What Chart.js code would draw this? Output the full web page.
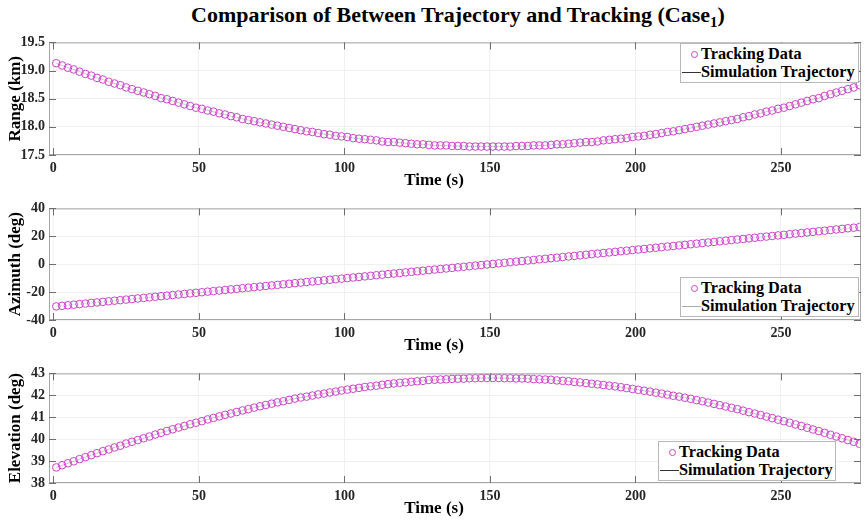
<!DOCTYPE html>
<html lang="en">
<head>
<meta charset="UTF-8">
<title>Comparison of Between Trajectory and Tracking</title>
<script src="https://cdn.jsdelivr.net/npm/chart.js"></script>
<style>
  body {
    margin: 0;
    width: 868px;
    height: 523px;
    position: relative;
    overflow: hidden;
    background: #fff;
    font-family: "Liberation Serif", "Times New Roman", serif;
  }
  .title {
    position: absolute;
    left: 0;
    width: 916px;
    top: 2px;
    text-align: center;
    font-weight: bold;
    font-size: 22px;
    color: #000;
  }
  .title sub { font-size: 15px; }
  .panel { position: absolute; left: 0; }
  .xlab {
    position: absolute;
    left: 334px;
    width: 200px;
    text-align: center;
    font-weight: bold;
    font-size: 17px;
    line-height: 20px;
    color: #000;
  }
  .legend {
    position: absolute;
    background: #fff;
    border: 1px solid #b8b8b8;
    font-weight: bold;
    font-size: 16.3px;
    color: #000;
    padding-top: 1px;
  }
  .legend .row {
    position: relative;
    height: 18px;
    line-height: 18px;
    padding-left: 20px;
    white-space: nowrap;
  }
  .legend .dot {
    position: absolute;
    left: 10px;
    top: 6px;
    width: 5px;
    height: 5px;
    border: 1px solid #cc44cc;
    border-radius: 50%;
  }
  .legend .ln {
    position: absolute;
    left: 1px;
    top: 9px;
    width: 19px;
    height: 1px;
  }
</style>
</head>
<body>

<div class="title">Comparison of Between Trajectory and Tracking (Case<sub>1</sub>)</div>

<div class="panel" style="top:30px"><canvas id="rangeChart" width="868" height="166"></canvas></div>
<div class="panel" style="top:196px"><canvas id="azimuthChart" width="868" height="165"></canvas></div>
<div class="panel" style="top:361px"><canvas id="elevationChart" width="868" height="162"></canvas></div>

<div class="xlab" style="top:170px">Time (s)</div>
<div class="xlab" style="top:335px">Time (s)</div>
<div class="xlab" style="top:498px">Time (s)</div>

<div class="legend" style="left:680px; top:43px; width:177px; height:37px;">
  <div class="row"><span class="dot"></span>Tracking Data</div>
  <div class="row"><span class="ln" style="background:#333"></span>Simulation Trajectory</div>
</div>
<div class="legend" style="left:680px; top:277px; width:177px; height:37px;">
  <div class="row"><span class="dot"></span>Tracking Data</div>
  <div class="row"><span class="ln" style="background:#aaa"></span>Simulation Trajectory</div>
</div>
<div class="legend" style="left:658px; top:441px; width:176px; height:37px;">
  <div class="row"><span class="dot"></span>Tracking Data</div>
  <div class="row"><span class="ln" style="background:#333"></span>Simulation Trajectory</div>
</div>

<script>
// time samples (s)
const timeSec = [
  1, 3, 5, 7, 9, 11, 13, 15, 17, 19, 21, 23, 25, 27, 29, 31, 33, 35, 37, 39,
  41, 43, 45, 47, 49, 51, 53, 55, 57, 59, 61, 63, 65, 67, 69, 71, 73, 75, 77, 79,
  81, 83, 85, 87, 89, 91, 93, 95, 97, 99, 101, 103, 105, 107, 109, 111, 113, 115, 117, 119,
  121, 123, 125, 127, 129, 131, 133, 135, 137, 139, 141, 143, 145, 147, 149, 151, 153, 155, 157, 159,
  161, 163, 165, 167, 169, 171, 173, 175, 177, 179, 181, 183, 185, 187, 189, 191, 193, 195, 197, 199,
  201, 203, 205, 207, 209, 211, 213, 215, 217, 219, 221, 223, 225, 227, 229, 231, 233, 235, 237, 239,
  241, 243, 245, 247, 249, 251, 253, 255, 257, 259, 261, 263, 265, 267, 269, 271, 273, 275, 277
];

// range (km)
const rangeKm = [
  19.13, 19.09, 19.05, 19.02, 18.98, 18.94, 18.91, 18.87, 18.84, 18.80, 18.77, 18.74, 18.70, 18.67, 18.64,
  18.61, 18.58, 18.55, 18.51, 18.49, 18.46, 18.43, 18.40, 18.37, 18.34, 18.32, 18.29, 18.27, 18.24, 18.22,
  18.19, 18.17, 18.14, 18.12, 18.10, 18.08, 18.06, 18.04, 18.02, 18.00, 17.98, 17.96, 17.94, 17.92, 17.91,
  17.89, 17.87, 17.86, 17.84, 17.83, 17.82, 17.80, 17.79, 17.78, 17.77, 17.76, 17.74, 17.73, 17.73, 17.72,
  17.71, 17.70, 17.69, 17.69, 17.68, 17.67, 17.67, 17.67, 17.66, 17.66, 17.66, 17.65, 17.65, 17.65, 17.65,
  17.65, 17.65, 17.65, 17.65, 17.66, 17.66, 17.66, 17.67, 17.67, 17.67, 17.68, 17.69, 17.69, 17.70, 17.71,
  17.72, 17.73, 17.73, 17.74, 17.76, 17.77, 17.78, 17.79, 17.80, 17.82, 17.83, 17.84, 17.86, 17.87, 17.89,
  17.91, 17.92, 17.94, 17.96, 17.98, 18.00, 18.02, 18.04, 18.06, 18.08, 18.10, 18.12, 18.14, 18.17, 18.19,
  18.22, 18.24, 18.27, 18.29, 18.32, 18.34, 18.37, 18.40, 18.43, 18.46, 18.49, 18.51, 18.55, 18.58, 18.61,
  18.64, 18.67, 18.70, 18.74
];

// azimuth (deg)
const azimuthDeg = [
  -30.25, -29.84, -29.44, -29.03, -28.62, -28.22, -27.81, -27.41, -27.00, -26.59, -26.19, -25.78, -25.38, -24.97, -24.56,
  -24.16, -23.75, -23.35, -22.94, -22.53, -22.13, -21.72, -21.32, -20.91, -20.50, -20.10, -19.69, -19.29, -18.88, -18.47,
  -18.07, -17.66, -17.26, -16.85, -16.44, -16.04, -15.63, -15.23, -14.82, -14.41, -14.01, -13.60, -13.20, -12.79, -12.38,
  -11.98, -11.57, -11.17, -10.76, -10.35, -9.95, -9.54, -9.14, -8.73, -8.32, -7.92, -7.51, -7.11, -6.70, -6.29,
  -5.89, -5.48, -5.08, -4.67, -4.26, -3.86, -3.45, -3.05, -2.64, -2.23, -1.83, -1.42, -1.02, -0.61, -0.20,
  0.20, 0.61, 1.02, 1.43, 1.84, 2.25, 2.66, 3.07, 3.48, 3.89, 4.30, 4.72, 5.13, 5.54, 5.96,
  6.37, 6.79, 7.20, 7.62, 8.03, 8.45, 8.87, 9.28, 9.70, 10.12, 10.53, 10.95, 11.37, 11.79, 12.21,
  12.63, 13.05, 13.47, 13.89, 14.31, 14.73, 15.15, 15.57, 15.99, 16.41, 16.84, 17.26, 17.68, 18.10, 18.53,
  18.95, 19.37, 19.80, 20.22, 20.64, 21.07, 21.49, 21.92, 22.34, 22.77, 23.19, 23.62, 24.04, 24.47, 24.90,
  25.32, 25.75, 26.17, 26.60
];

// elevation (deg)
const elevationDeg = [
  38.71, 38.81, 38.90, 38.99, 39.09, 39.18, 39.27, 39.36, 39.45, 39.53, 39.62, 39.70, 39.80, 39.88, 39.96,
  40.04, 40.12, 40.21, 40.29, 40.37, 40.45, 40.53, 40.60, 40.68, 40.75, 40.82, 40.90, 40.97, 41.04, 41.11,
  41.17, 41.24, 41.31, 41.37, 41.44, 41.50, 41.56, 41.62, 41.68, 41.73, 41.79, 41.85, 41.90, 41.94, 41.99,
  42.04, 42.08, 42.13, 42.17, 42.22, 42.26, 42.30, 42.34, 42.38, 42.41, 42.44, 42.48, 42.51, 42.54, 42.57,
  42.59, 42.62, 42.64, 42.66, 42.70, 42.71, 42.72, 42.73, 42.75, 42.76, 42.76, 42.78, 42.78, 42.79, 42.79,
  42.79, 42.79, 42.78, 42.78, 42.77, 42.77, 42.76, 42.74, 42.73, 42.72, 42.71, 42.68, 42.66, 42.64, 42.61,
  42.59, 42.56, 42.53, 42.50, 42.47, 42.44, 42.41, 42.37, 42.33, 42.29, 42.25, 42.21, 42.17, 42.12, 42.08,
  42.03, 41.98, 41.94, 41.89, 41.84, 41.78, 41.73, 41.67, 41.61, 41.55, 41.49, 41.43, 41.37, 41.30, 41.23,
  41.17, 41.10, 41.03, 40.96, 40.89, 40.82, 40.75, 40.67, 40.60, 40.52, 40.44, 40.37, 40.29, 40.20, 40.12,
  40.04, 39.96, 39.88, 39.79
];

const xTicks = [0, 50, 100, 150, 200, 250];
const rangeTicks = [17.5, 18, 18.5, 19, 19.5];
const azimuthTicks = [-40, -20, 0, 20, 40];
const elevationTicks = [38, 39, 40, 41, 42, 43];

const serif = 'Liberation Serif';

// box around the axes and inward tick marks, matlab style
const boxTicks = {
  id: 'boxTicks',
  afterDraw(chart) {
    const { ctx, chartArea: a, scales: { x, y } } = chart;
    ctx.save();
    ctx.lineWidth = 1;
    ctx.strokeStyle = '#a6a6a6';
    ctx.strokeRect(a.left + 0.5, a.top + 0.5, a.right - a.left - 1, a.bottom - a.top - 1);
    ctx.strokeStyle = '#6e6e6e';
    ctx.beginPath();
    x.ticks.forEach(t => {
      const px = Math.round(x.getPixelForValue(t.value)) + 0.5;
      ctx.moveTo(px, a.bottom); ctx.lineTo(px, a.bottom - 7);
      ctx.moveTo(px, a.top); ctx.lineTo(px, a.top + 7);
    });
    y.ticks.forEach(t => {
      const py = Math.round(y.getPixelForValue(t.value)) + 0.5;
      ctx.moveTo(a.left, py); ctx.lineTo(a.left + 7, py);
      ctx.moveTo(a.right, py); ctx.lineTo(a.right - 7, py);
    });
    ctx.stroke();
    ctx.restore();
  }
};

function makeChart(id, values, yMin, yMax, yTicks, yTitle, lineColor, padTop, xAxisH) {
  const pts = timeSec.map((t, i) => ({ x: t, y: values[i] }));
  new Chart(document.getElementById(id), {
    type: 'scatter',
    data: {
      datasets: [
        {
          label: 'Tracking Data',
          data: pts,
          showLine: false,
          pointStyle: 'circle',
          pointRadius: 3.8,
          pointBorderWidth: 1,
          pointBorderColor: '#cc44cc',
          pointBackgroundColor: 'rgba(0,0,0,0)',
          order: 1
        },
        {
          label: 'Simulation Trajectory',
          data: pts,
          showLine: true,
          borderColor: lineColor,
          borderWidth: 0.5,
          pointRadius: 0,
          order: 2
        }
      ]
    },
    options: {
      responsive: false,
      animation: false,
      events: [],
      layout: { padding: { top: padTop, right: 7, bottom: 0, left: 0 } },
      plugins: { legend: { display: false }, tooltip: { enabled: false } },
      scales: {
        x: {
          type: 'linear',
          min: -1.5,
          max: 277.5,
          afterBuildTicks: s => { s.ticks = xTicks.map(v => ({ value: v })); },
          afterFit: s => { s.height = xAxisH; },
          grid: { color: '#f0f0f0', drawTicks: false },
          border: { display: false },
          ticks: {
            padding: 5,
            maxRotation: 0,
            color: '#262626',
            font: { family: serif, weight: 'bold', size: 14 }
          }
        },
        y: {
          min: yMin,
          max: yMax,
          afterBuildTicks: s => { s.ticks = yTicks.map(v => ({ value: v })); },
          afterFit: s => { s.width = 49; },
          grid: { color: '#f0f0f0', drawTicks: false },
          border: { display: false },
          ticks: {
            padding: 4,
            color: '#262626',
            font: { family: serif, weight: 'bold', size: 14 }
          },
          title: {
            display: true,
            text: yTitle,
            color: '#000',
            padding: { top: 5, bottom: 0 },
            font: { family: serif, weight: 'bold', size: 17 }
          }
        }
      }
    },
    plugins: [boxTicks]
  });
}

makeChart('rangeChart', rangeKm, 17.5, 19.5, rangeTicks, 'Range (km)', 'rgba(30,30,30,0.45)', 8, 41);
makeChart('azimuthChart', azimuthDeg, -40, 40, azimuthTicks, 'Azimuth (deg)', 'rgba(150,150,150,0.45)', 6, 41);
makeChart('elevationChart', elevationDeg, 38, 43, elevationTicks, 'Elevation (deg)', 'rgba(30,30,30,0.45)', 5, 40);
</script>

</body>
</html>
